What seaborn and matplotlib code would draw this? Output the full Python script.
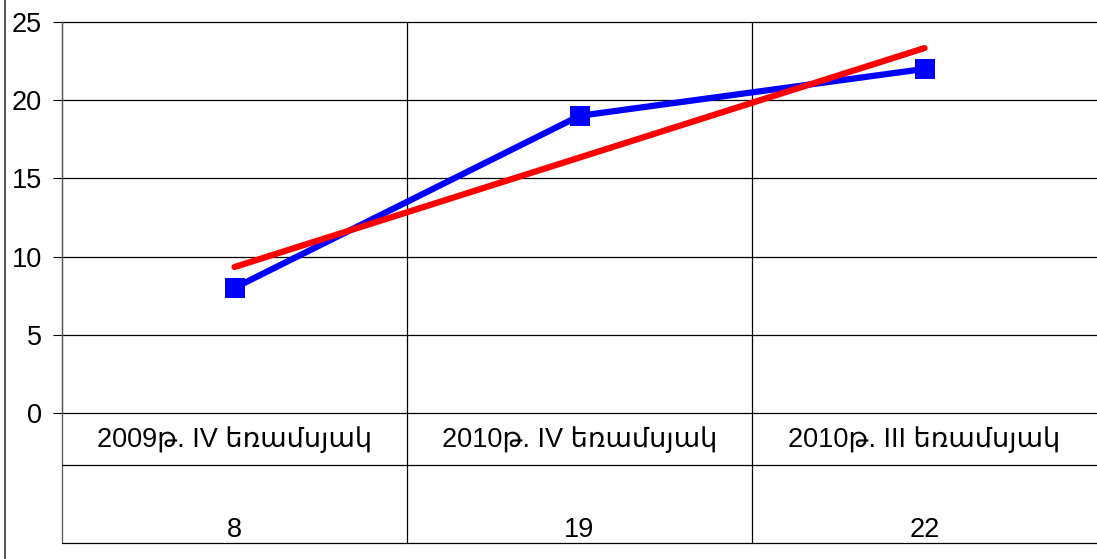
import matplotlib
matplotlib.use("Agg")
import matplotlib.pyplot as plt
import matplotlib.lines as mlines
import seaborn as sns
import numpy as np

# data
categories = ["2009թ. IV եռամսյակ", "2010թ. IV եռամսյակ", "2010թ. III եռամսյակ"]
values = [8, 19, 22]
y_ticks = [0, 5, 10, 15, 20, 25]

sns.set_style("white")
plt.rcParams['font.family'] = ['Liberation Sans', 'DejaVu Sans']
plt.rcParams['text.color'] = 'black'
plt.rcParams['ytick.labelcolor'] = 'black'

fig = plt.figure(figsize=(10.97, 5.59), dpi=100)
W, H = 1097, 559
ax = fig.add_axes([62 / W, 1 - 413 / H, (1097 - 62) / W, (413 - 22) / H])

xs = np.arange(len(values))

# blue series with square markers
sns.lineplot(x=xs, y=values, ax=ax, color="#0000ff", linewidth=4.5,
             marker="s", markersize=14, markeredgewidth=0, zorder=3)

# linear trend line
sns.regplot(x=xs, y=values, ax=ax, scatter=False, ci=None, truncate=True,
            line_kws=dict(color="#ff0000", linewidth=4.5, zorder=4))

ax.set_xlim(-0.5, len(values) - 0.5)
ax.set_ylim(0, 25)
ax.set_yticks(y_ticks)
ax.set_xticks([])
ax.set_xlabel("")
ax.set_ylabel("")
ax.tick_params(axis="y", direction="out", length=6.5, width=0.8, pad=8,
               labelsize=19.5, left=True, color="black", labelcolor="black")

for s in ["top", "right", "bottom"]:
    ax.spines[s].set_visible(False)
ax.spines["left"].set_color("#555555")
ax.spines["left"].set_linewidth(0.9)

for yv in y_ticks:
    ax.axhline(yv, color="black", linewidth=0.9, zorder=1, clip_on=False)

# data table below the axis
px = 25 / (413 - 22)
row_line = -(465 - 413) * px
bottom = -(543 - 413) * px
label_y = -(440 - 413) * px
value_y = -(530 - 413) * px

ax.plot([-0.5, -0.5], [25, bottom], color="#555555", linewidth=0.9, clip_on=False)
for b in [0.5, 1.5]:
    ax.plot([b, b], [25, bottom], color="black", linewidth=0.9, clip_on=False, zorder=1)
for yl in [row_line, bottom]:
    ax.plot([-0.5, 2.5], [yl, yl], color="black", linewidth=0.9, clip_on=False)

for i, (c, v) in enumerate(zip(categories, values)):
    ax.text(i, label_y, c, ha="center", va="center", fontsize=19.5, clip_on=False)
    ax.text(i, value_y, str(v), ha="center", va="center", fontsize=19.5, clip_on=False)

# outer left border
fig.add_artist(mlines.Line2D([5 / W, 5 / W], [0, 1], color="#333333", linewidth=1.2))

fig.savefig("out.png", dpi=100)
